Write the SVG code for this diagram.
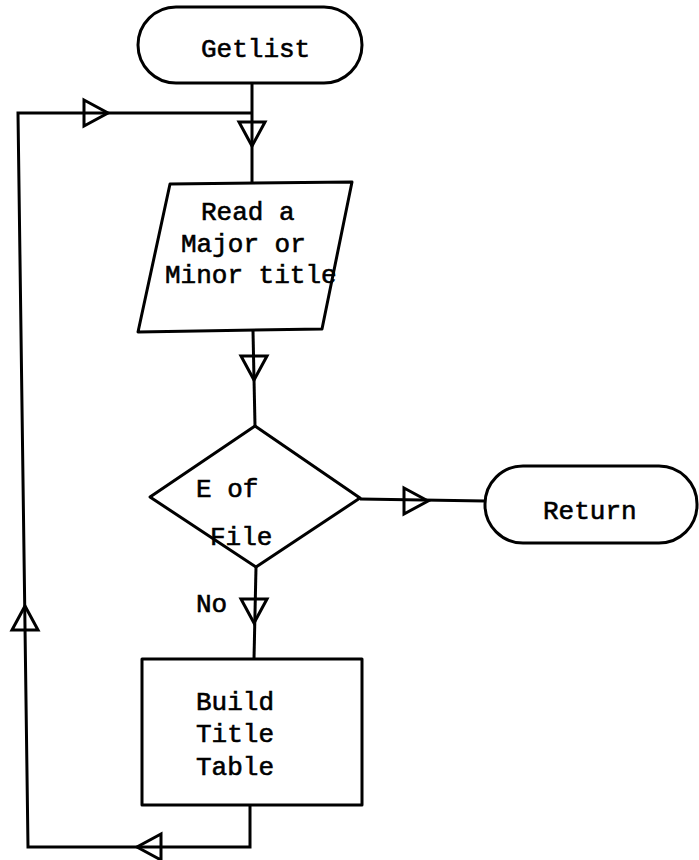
<svg xmlns="http://www.w3.org/2000/svg" xmlns:xlink="http://www.w3.org/1999/xlink" width="699" height="860" viewBox="0 0 699 860">
  <style>
    .shape { fill: #fff; stroke: #000; stroke-width: 3; stroke-linejoin: round; }
    .wire { fill: none; stroke: #000; stroke-width: 3; stroke-linejoin: miter; }
    .head { fill: none; stroke: #000; stroke-width: 3; stroke-linejoin: miter; }
    .lbl { font-family: "Liberation Mono", "DejaVu Sans Mono", monospace; font-size: 26px; fill: #000; stroke: #000; stroke-width: 0.6; }
  </style>
  <defs>
    <!-- open flow triangle, pointing along +x, centred on the origin -->
    <path id="tri" d="M-12,-13 L12,0 L-12,13 Z"/>
  </defs>

  <rect width="699" height="860" fill="#fff"/>

  <g id="connectors">
    <path class="wire" d="M252,83 V183"/>
    <path class="wire" d="M253,331 L255,426"/>
    <path class="wire" d="M360,499 L485,501"/>
    <path class="wire" d="M256,567 L254,659"/>
    <path class="wire" d="M250,805 V847 H28 L18,113 H252"/>
    <use href="#tri" class="head" transform="translate(96,113)"/>
    <use href="#tri" class="head" transform="translate(252,134) rotate(90)"/>
    <use href="#tri" class="head" transform="translate(254,368) rotate(90)"/>
    <use href="#tri" class="head" transform="translate(416,501)"/>
    <use href="#tri" class="head" transform="translate(254,611) rotate(90)"/>
    <use href="#tri" class="head" transform="translate(25,618) rotate(-90)"/>
    <use href="#tri" class="head" transform="translate(149,847) rotate(180)"/>
    <text class="lbl" x="196" y="612">No</text>
  </g>

  <g id="getlist">
    <rect class="shape" x="138" y="7" width="224" height="76" rx="38" ry="38"/>
    <text class="lbl" x="201" y="57">Getlist</text>
  </g>

  <g id="read-title">
    <polygon class="shape" points="170,184 352,182 322,329 138,332"/>
    <text class="lbl" x="201" y="220">Read a</text>
    <text class="lbl" x="181" y="252">Major or</text>
    <text class="lbl" x="165" y="283">Minor title</text>
  </g>

  <g id="end-of-file">
    <polygon class="shape" points="255,426 360,498 256,567 150,497"/>
    <text class="lbl" x="196" y="497">E of</text>
    <text class="lbl" x="210" y="545">File</text>
  </g>

  <g id="return">
    <rect class="shape" x="485" y="466" width="212" height="77" rx="38" ry="38"/>
    <text class="lbl" x="543" y="519">Return</text>
  </g>

  <g id="build-table">
    <rect class="shape" x="142" y="659" width="220" height="146"/>
    <text class="lbl" x="196" y="710">Build</text>
    <text class="lbl" x="196" y="742">Title</text>
    <text class="lbl" x="196" y="775">Table</text>
  </g>
</svg>
